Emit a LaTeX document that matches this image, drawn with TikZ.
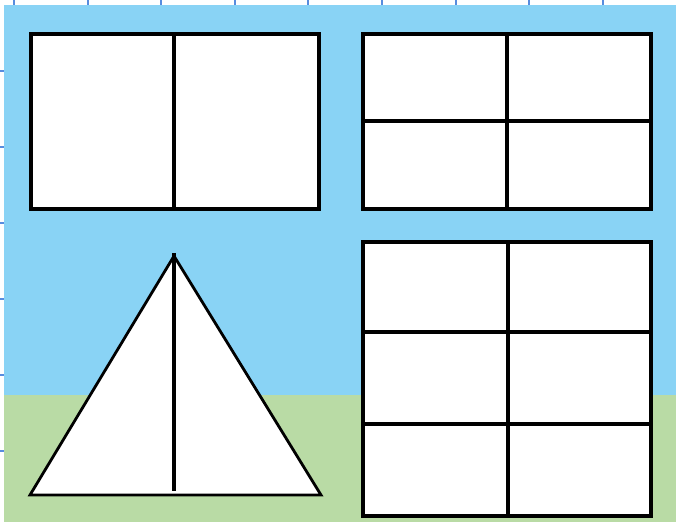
\documentclass[tikz,border=0pt]{standalone}
\usepackage{tikz}
\usetikzlibrary{calc}
\definecolor{skyblue}{RGB}{137,211,245}
\definecolor{grassgreen}{RGB}{185,219,165}
\definecolor{tickblue}{RGB}{88,140,222}

\begin{document}
\begin{tikzpicture}[
  x=1pt, y=-1pt,
  panel/.style={draw=black, line width=3.2pt, fill=white},
  divider/.style={draw=black, line width=3.1pt},
  tick/.style={draw=tickblue, line width=2.8pt}
]
% page and background
\useasboundingbox (0,0) rectangle (676,524);
\fill[white] (0,0) rectangle (676,524);
\fill[skyblue] (4,5) rectangle (676,395);
\fill[grassgreen] (4,395) rectangle (676,522);

% ruler marks
\foreach \x in {14,88,161,235,308,382,456,529,603} \draw[tick] (\x,0) -- (\x,5);
\foreach \y in {71,147,223,299,375,451} \draw[tick] (0,\y) -- (4,\y);

% top left: two panels
\draw[panel] (31,34) rectangle (319,209);
\draw[divider] (174,34) -- (174,209);

% top right: four panels
\draw[panel] (363,34) rectangle (651,209);
\draw[divider] (507,34) -- (507,209);
\draw[divider] (363,121) -- (651,121);

% bottom right: six panels
\draw[panel] (363,242) rectangle (651,516);
\draw[divider] (508,242) -- (508,516);
\draw[divider] (363,332) -- (651,332);
\draw[divider] (363,424) -- (651,424);

% bottom left: triangle
\coordinate (apex) at (174,256);
\coordinate (bl) at (30,495);
\coordinate (br) at (321,495);
\draw[draw=black, line width=2.8pt, fill=white, line join=miter] (bl) -- (apex) -- (br) -- cycle;
\draw[divider] (174,253) -- (174,491);
\end{tikzpicture}
\end{document}
